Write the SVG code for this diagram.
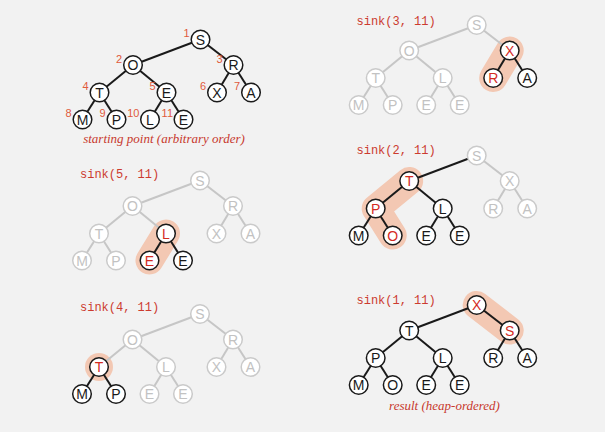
<svg xmlns="http://www.w3.org/2000/svg" width="605" height="432" viewBox="0 0 605 432">
<style>
.e{stroke:#1a1a1a;stroke-width:2;fill:none}
.eg{stroke:#c6c6c6;stroke-width:2;fill:none}
.n{fill:#fff;stroke:#1a1a1a;stroke-width:1.5}
.ng{fill:#fff;stroke:#cacaca;stroke-width:1.5}
circle.n,circle.ng{r:9.3px}
.t{font-family:"Liberation Sans",sans-serif;font-size:14px;text-anchor:middle;fill:#1a1a1a}
.tg{fill:#c2c2c2}
.tr{fill:#d42b1f}
.num{font-family:"Liberation Sans",sans-serif;font-size:11px;fill:#e05a3c;text-anchor:end}
.code{font-family:"Liberation Mono",monospace;font-size:12px;fill:#cc3b2f}
.cap{font-family:"Liberation Serif",serif;font-style:italic;font-size:13px;fill:#c8392e;text-anchor:middle}
.hl{stroke:#f3c8b3;stroke-width:28;stroke-linecap:round;stroke-linejoin:round;fill:none}
</style>
<rect width="605" height="432" fill="#f2f2f2"/>

<!-- Panel 1: starting point -->
<g id="panel1" transform="translate(200.5,39.5)">
  <g id="p1-edges">
    <line class="e" x1="0" y1="0" x2="-67.5" y2="25.5"/>
    <line class="e" x1="0" y1="0" x2="33" y2="25.5"/>
    <line class="e" x1="-67.5" y1="25.5" x2="-101" y2="53"/>
    <line class="e" x1="-67.5" y1="25.5" x2="-34" y2="53"/>
    <line class="e" x1="33" y1="25.5" x2="16.5" y2="53"/>
    <line class="e" x1="33" y1="25.5" x2="50.5" y2="53"/>
    <line class="e" x1="-101" y1="53" x2="-118" y2="80"/>
    <line class="e" x1="-101" y1="53" x2="-84" y2="80"/>
    <line class="e" x1="-34" y1="53" x2="-50.5" y2="80"/>
    <line class="e" x1="-34" y1="53" x2="-17" y2="80"/>
  </g>
  <g id="p1-n1"><circle class="n" cx="0" cy="0" r="9.3"/><text class="t" x="0" y="5">S</text><text class="num" x="-11" y="-2.5">1</text></g>
  <g id="p1-n2"><circle class="n" cx="-67.5" cy="25.5" r="9.3"/><text class="t" x="-67.5" y="30.5">O</text><text class="num" x="-78.5" y="23">2</text></g>
  <g id="p1-n3"><circle class="n" cx="33" cy="25.5" r="9.3"/><text class="t" x="33" y="30.5">R</text><text class="num" x="22" y="23">3</text></g>
  <g id="p1-n4"><circle class="n" cx="-101" cy="53" r="9.3"/><text class="t" x="-101" y="58">T</text><text class="num" x="-112" y="50.5">4</text></g>
  <g id="p1-n5"><circle class="n" cx="-34" cy="53" r="9.3"/><text class="t" x="-34" y="58">E</text><text class="num" x="-45" y="50.5">5</text></g>
  <g id="p1-n6"><circle class="n" cx="16.5" cy="53" r="9.3"/><text class="t" x="16.5" y="58">X</text><text class="num" x="5.5" y="50.5">6</text></g>
  <g id="p1-n7"><circle class="n" cx="50.5" cy="53" r="9.3"/><text class="t" x="50.5" y="58">A</text><text class="num" x="39.5" y="50.5">7</text></g>
  <g id="p1-n8"><circle class="n" cx="-118" cy="80" r="9.3"/><text class="t" x="-118" y="85">M</text><text class="num" x="-129" y="77.5">8</text></g>
  <g id="p1-n9"><circle class="n" cx="-84" cy="80" r="9.3"/><text class="t" x="-84" y="85">P</text><text class="num" x="-95" y="77.5">9</text></g>
  <g id="p1-n10"><circle class="n" cx="-50.5" cy="80" r="9.3"/><text class="t" x="-50.5" y="85">L</text><text class="num" x="-61" y="77.5">10</text></g>
  <g id="p1-n11"><circle class="n" cx="-17" cy="80" r="9.3"/><text class="t" x="-17" y="85">E</text><text class="num" x="-27.5" y="77.5">11</text></g>
</g>
<text class="cap" x="164" y="143">starting point (arbitrary order)</text>

<!-- Panel 2: sink(3, 11) -->
<text class="code" x="356.5" y="25">sink(3, 11)</text>
<g id="panel2" transform="translate(476.7,25)">
  <line class="hl" x1="33" y1="25.5" x2="16.5" y2="53"/>
  <g id="p2-edges">
    <line class="eg" x1="0" y1="0" x2="-67.5" y2="25.5"/>
    <line class="eg" x1="0" y1="0" x2="33" y2="25.5"/>
    <line class="eg" x1="-67.5" y1="25.5" x2="-101" y2="53"/>
    <line class="eg" x1="-67.5" y1="25.5" x2="-34" y2="53"/>
    <line class="e" x1="33" y1="25.5" x2="16.5" y2="53"/>
    <line class="e" x1="33" y1="25.5" x2="50.5" y2="53"/>
    <line class="eg" x1="-101" y1="53" x2="-118" y2="80"/>
    <line class="eg" x1="-101" y1="53" x2="-84" y2="80"/>
    <line class="eg" x1="-34" y1="53" x2="-50.5" y2="80"/>
    <line class="eg" x1="-34" y1="53" x2="-17" y2="80"/>
  </g>
  <g id="p2-n1"><circle class="ng" cx="0" cy="0" r="9.3"/><text class="t tg" x="0" y="5">S</text></g>
  <g id="p2-n2"><circle class="ng" cx="-67.5" cy="25.5" r="9.3"/><text class="t tg" x="-67.5" y="30.5">O</text></g>
  <g id="p2-n3"><circle class="n" cx="33" cy="25.5" r="9.3"/><text class="t tr" x="33" y="30.5">X</text></g>
  <g id="p2-n4"><circle class="ng" cx="-101" cy="53" r="9.3"/><text class="t tg" x="-101" y="58">T</text></g>
  <g id="p2-n5"><circle class="ng" cx="-34" cy="53" r="9.3"/><text class="t tg" x="-34" y="58">L</text></g>
  <g id="p2-n6"><circle class="n" cx="16.5" cy="53" r="9.3"/><text class="t tr" x="16.5" y="58">R</text></g>
  <g id="p2-n7"><circle class="n" cx="50.5" cy="53" r="9.3"/><text class="t" x="50.5" y="58">A</text></g>
  <g id="p2-n8"><circle class="ng" cx="-118" cy="80" r="9.3"/><text class="t tg" x="-118" y="85">M</text></g>
  <g id="p2-n9"><circle class="ng" cx="-84" cy="80" r="9.3"/><text class="t tg" x="-84" y="85">P</text></g>
  <g id="p2-n10"><circle class="ng" cx="-50.5" cy="80" r="9.3"/><text class="t tg" x="-50.5" y="85">E</text></g>
  <g id="p2-n11"><circle class="ng" cx="-17" cy="80" r="9.3"/><text class="t tg" x="-17" y="85">E</text></g>
</g>

<!-- Panel 3: sink(5, 11) -->
<text class="code" x="80" y="178">sink(5, 11)</text>
<g id="panel3" transform="translate(200,180.5)">
  <line class="hl" x1="-34" y1="53" x2="-50.5" y2="80"/>
  <g id="p3-edges">
    <line class="eg" x1="0" y1="0" x2="-67.5" y2="25.5"/>
    <line class="eg" x1="0" y1="0" x2="33" y2="25.5"/>
    <line class="eg" x1="-67.5" y1="25.5" x2="-101" y2="53"/>
    <line class="eg" x1="-67.5" y1="25.5" x2="-34" y2="53"/>
    <line class="eg" x1="33" y1="25.5" x2="16.5" y2="53"/>
    <line class="eg" x1="33" y1="25.5" x2="50.5" y2="53"/>
    <line class="eg" x1="-101" y1="53" x2="-118" y2="80"/>
    <line class="eg" x1="-101" y1="53" x2="-84" y2="80"/>
    <line class="e" x1="-34" y1="53" x2="-50.5" y2="80"/>
    <line class="e" x1="-34" y1="53" x2="-17" y2="80"/>
  </g>
  <g id="p3-n1"><circle class="ng" cx="0" cy="0" r="9.3"/><text class="t tg" x="0" y="5">S</text></g>
  <g id="p3-n2"><circle class="ng" cx="-67.5" cy="25.5" r="9.3"/><text class="t tg" x="-67.5" y="30.5">O</text></g>
  <g id="p3-n3"><circle class="ng" cx="33" cy="25.5" r="9.3"/><text class="t tg" x="33" y="30.5">R</text></g>
  <g id="p3-n4"><circle class="ng" cx="-101" cy="53" r="9.3"/><text class="t tg" x="-101" y="58">T</text></g>
  <g id="p3-n5"><circle class="n" cx="-34" cy="53" r="9.3"/><text class="t tr" x="-34" y="58">L</text></g>
  <g id="p3-n6"><circle class="ng" cx="16.5" cy="53" r="9.3"/><text class="t tg" x="16.5" y="58">X</text></g>
  <g id="p3-n7"><circle class="ng" cx="50.5" cy="53" r="9.3"/><text class="t tg" x="50.5" y="58">A</text></g>
  <g id="p3-n8"><circle class="ng" cx="-118" cy="80" r="9.3"/><text class="t tg" x="-118" y="85">M</text></g>
  <g id="p3-n9"><circle class="ng" cx="-84" cy="80" r="9.3"/><text class="t tg" x="-84" y="85">P</text></g>
  <g id="p3-n10"><circle class="n" cx="-50.5" cy="80" r="9.3"/><text class="t tr" x="-50.5" y="85">E</text></g>
  <g id="p3-n11"><circle class="n" cx="-17" cy="80" r="9.3"/><text class="t" x="-17" y="85">E</text></g>
</g>

<!-- Panel 4: sink(2, 11) -->
<text class="code" x="356.5" y="154">sink(2, 11)</text>
<g id="panel4" transform="translate(476.7,155.5)">
  <polyline class="hl" points="-67.5,25.5 -101,53 -84,80"/>
  <g id="p4-edges">
    <line class="e" x1="0" y1="0" x2="-67.5" y2="25.5"/>
    <line class="eg" x1="0" y1="0" x2="33" y2="25.5"/>
    <line class="e" x1="-67.5" y1="25.5" x2="-101" y2="53"/>
    <line class="e" x1="-67.5" y1="25.5" x2="-34" y2="53"/>
    <line class="eg" x1="33" y1="25.5" x2="16.5" y2="53"/>
    <line class="eg" x1="33" y1="25.5" x2="50.5" y2="53"/>
    <line class="e" x1="-101" y1="53" x2="-118" y2="80"/>
    <line class="e" x1="-101" y1="53" x2="-84" y2="80"/>
    <line class="e" x1="-34" y1="53" x2="-50.5" y2="80"/>
    <line class="e" x1="-34" y1="53" x2="-17" y2="80"/>
  </g>
  <g id="p4-n1"><circle class="ng" cx="0" cy="0" r="9.3"/><text class="t tg" x="0" y="5">S</text></g>
  <g id="p4-n2"><circle class="n" cx="-67.5" cy="25.5" r="9.3"/><text class="t tr" x="-67.5" y="30.5">T</text></g>
  <g id="p4-n3"><circle class="ng" cx="33" cy="25.5" r="9.3"/><text class="t tg" x="33" y="30.5">X</text></g>
  <g id="p4-n4"><circle class="n" cx="-101" cy="53" r="9.3"/><text class="t tr" x="-101" y="58">P</text></g>
  <g id="p4-n5"><circle class="n" cx="-34" cy="53" r="9.3"/><text class="t" x="-34" y="58">L</text></g>
  <g id="p4-n6"><circle class="ng" cx="16.5" cy="53" r="9.3"/><text class="t tg" x="16.5" y="58">R</text></g>
  <g id="p4-n7"><circle class="ng" cx="50.5" cy="53" r="9.3"/><text class="t tg" x="50.5" y="58">A</text></g>
  <g id="p4-n8"><circle class="n" cx="-118" cy="80" r="9.3"/><text class="t" x="-118" y="85">M</text></g>
  <g id="p4-n9"><circle class="n" cx="-84" cy="80" r="9.3"/><text class="t tr" x="-84" y="85">O</text></g>
  <g id="p4-n10"><circle class="n" cx="-50.5" cy="80" r="9.3"/><text class="t" x="-50.5" y="85">E</text></g>
  <g id="p4-n11"><circle class="n" cx="-17" cy="80" r="9.3"/><text class="t" x="-17" y="85">E</text></g>
</g>

<!-- Panel 5: sink(4, 11) -->
<text class="code" x="80" y="311">sink(4, 11)</text>
<g id="panel5" transform="translate(200,314)">
  <circle cx="-101" cy="53" r="14" fill="#f3c8b3"/>
  <g id="p5-edges">
    <line class="eg" x1="0" y1="0" x2="-67.5" y2="25.5"/>
    <line class="eg" x1="0" y1="0" x2="33" y2="25.5"/>
    <line class="eg" x1="-67.5" y1="25.5" x2="-101" y2="53"/>
    <line class="eg" x1="-67.5" y1="25.5" x2="-34" y2="53"/>
    <line class="eg" x1="33" y1="25.5" x2="16.5" y2="53"/>
    <line class="eg" x1="33" y1="25.5" x2="50.5" y2="53"/>
    <line class="e" x1="-101" y1="53" x2="-118" y2="80"/>
    <line class="e" x1="-101" y1="53" x2="-84" y2="80"/>
    <line class="eg" x1="-34" y1="53" x2="-50.5" y2="80"/>
    <line class="eg" x1="-34" y1="53" x2="-17" y2="80"/>
  </g>
  <g id="p5-n1"><circle class="ng" cx="0" cy="0" r="9.3"/><text class="t tg" x="0" y="5">S</text></g>
  <g id="p5-n2"><circle class="ng" cx="-67.5" cy="25.5" r="9.3"/><text class="t tg" x="-67.5" y="30.5">O</text></g>
  <g id="p5-n3"><circle class="ng" cx="33" cy="25.5" r="9.3"/><text class="t tg" x="33" y="30.5">R</text></g>
  <g id="p5-n4"><circle class="n" cx="-101" cy="53" r="9.3"/><text class="t tr" x="-101" y="58">T</text></g>
  <g id="p5-n5"><circle class="ng" cx="-34" cy="53" r="9.3"/><text class="t tg" x="-34" y="58">L</text></g>
  <g id="p5-n6"><circle class="ng" cx="16.5" cy="53" r="9.3"/><text class="t tg" x="16.5" y="58">X</text></g>
  <g id="p5-n7"><circle class="ng" cx="50.5" cy="53" r="9.3"/><text class="t tg" x="50.5" y="58">A</text></g>
  <g id="p5-n8"><circle class="n" cx="-118" cy="80" r="9.3"/><text class="t" x="-118" y="85">M</text></g>
  <g id="p5-n9"><circle class="n" cx="-84" cy="80" r="9.3"/><text class="t" x="-84" y="85">P</text></g>
  <g id="p5-n10"><circle class="ng" cx="-50.5" cy="80" r="9.3"/><text class="t tg" x="-50.5" y="85">E</text></g>
  <g id="p5-n11"><circle class="ng" cx="-17" cy="80" r="9.3"/><text class="t tg" x="-17" y="85">E</text></g>
</g>

<!-- Panel 6: sink(1, 11) -->
<text class="code" x="356.5" y="304">sink(1, 11)</text>
<g id="panel6" transform="translate(476.7,305)">
  <line class="hl" x1="0" y1="0" x2="33" y2="25.5"/>
  <g id="p6-edges">
    <line class="e" x1="0" y1="0" x2="-67.5" y2="25.5"/>
    <line class="e" x1="0" y1="0" x2="33" y2="25.5"/>
    <line class="e" x1="-67.5" y1="25.5" x2="-101" y2="53"/>
    <line class="e" x1="-67.5" y1="25.5" x2="-34" y2="53"/>
    <line class="e" x1="33" y1="25.5" x2="16.5" y2="53"/>
    <line class="e" x1="33" y1="25.5" x2="50.5" y2="53"/>
    <line class="e" x1="-101" y1="53" x2="-118" y2="80"/>
    <line class="e" x1="-101" y1="53" x2="-84" y2="80"/>
    <line class="e" x1="-34" y1="53" x2="-50.5" y2="80"/>
    <line class="e" x1="-34" y1="53" x2="-17" y2="80"/>
  </g>
  <g id="p6-n1"><circle class="n" cx="0" cy="0" r="9.3"/><text class="t tr" x="0" y="5">X</text></g>
  <g id="p6-n2"><circle class="n" cx="-67.5" cy="25.5" r="9.3"/><text class="t" x="-67.5" y="30.5">T</text></g>
  <g id="p6-n3"><circle class="n" cx="33" cy="25.5" r="9.3"/><text class="t tr" x="33" y="30.5">S</text></g>
  <g id="p6-n4"><circle class="n" cx="-101" cy="53" r="9.3"/><text class="t" x="-101" y="58">P</text></g>
  <g id="p6-n5"><circle class="n" cx="-34" cy="53" r="9.3"/><text class="t" x="-34" y="58">L</text></g>
  <g id="p6-n6"><circle class="n" cx="16.5" cy="53" r="9.3"/><text class="t" x="16.5" y="58">R</text></g>
  <g id="p6-n7"><circle class="n" cx="50.5" cy="53" r="9.3"/><text class="t" x="50.5" y="58">A</text></g>
  <g id="p6-n8"><circle class="n" cx="-118" cy="80" r="9.3"/><text class="t" x="-118" y="85">M</text></g>
  <g id="p6-n9"><circle class="n" cx="-84" cy="80" r="9.3"/><text class="t" x="-84" y="85">O</text></g>
  <g id="p6-n10"><circle class="n" cx="-50.5" cy="80" r="9.3"/><text class="t" x="-50.5" y="85">E</text></g>
  <g id="p6-n11"><circle class="n" cx="-17" cy="80" r="9.3"/><text class="t" x="-17" y="85">E</text></g>
</g>
<text class="cap" x="444.5" y="410">result (heap-ordered)</text>
</svg>
